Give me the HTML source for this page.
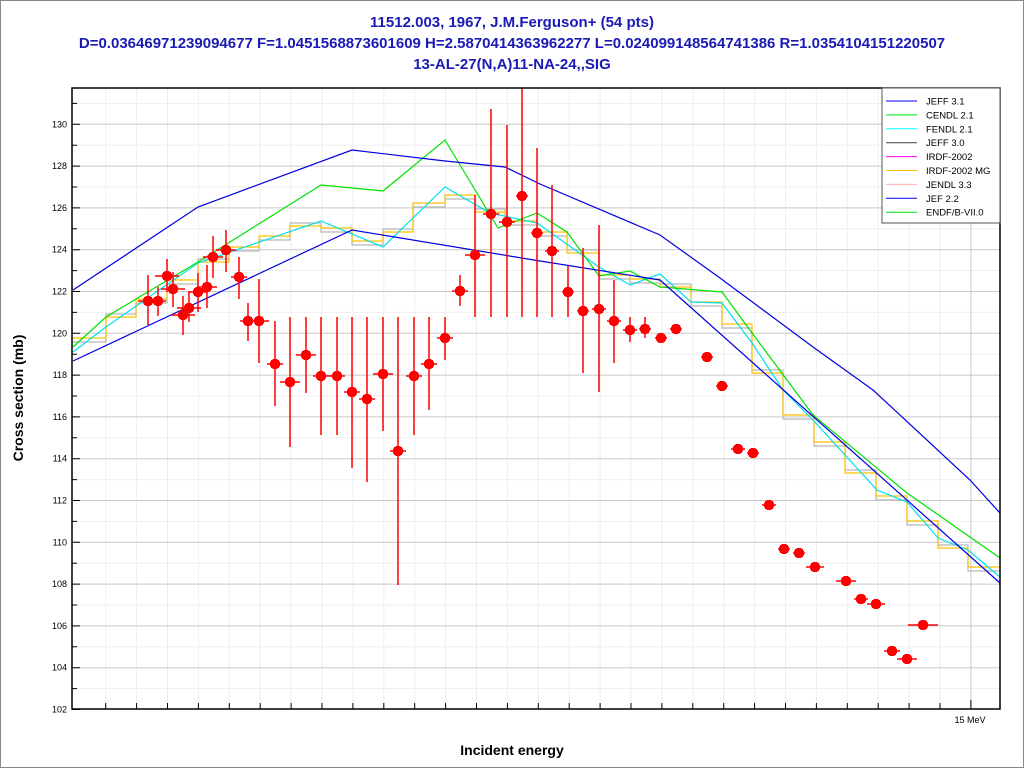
<!DOCTYPE html>
<html><head><meta charset="utf-8"><style>
body{margin:0;background:#fff}
svg{display:block;font-family:"Liberation Sans",sans-serif}
</style></head><body>
<svg width="1024" height="768" viewBox="0 0 1024 768" xmlns="http://www.w3.org/2000/svg" xmlns:xlink="http://www.w3.org/1999/xlink">
<defs>
<g id="m" fill="#f00"><rect x="-4" y="-4" width="8" height="8"/><rect x="-5" y="-2.5" width="10" height="5"/><rect x="-2.5" y="-5" width="5" height="10"/></g>
</defs>
<rect x="0.5" y="0.5" width="1023" height="767" fill="#fff" stroke="#888"/>
<g fill="#1a1ab4" font-size="15" font-weight="bold" text-anchor="middle">
<text x="512" y="27">11512.003, 1967, J.M.Ferguson+ (54 pts)</text>
<text x="512" y="48">D=0.03646971239094677 F=1.0451568873601609 H=2.5870414363962277 L=0.024099148564741386 R=1.0354104151220507</text>
<text x="512" y="69">13-AL-27(N,A)11-NA-24,,SIG</text>
</g>
<path fill="none" stroke="#eeeeee" d="M72 688.6H1000M72 646.8H1000M72 605H1000M72 563.2H1000M72 521.4H1000M72 479.6H1000M72 437.8H1000M72 396H1000M72 354.2H1000M72 312.4H1000M72 270.6H1000M72 228.8H1000M72 187H1000M72 145.2H1000M72 103.4H1000
M105.7 88V709M136.6 88V709M167.5 88V709M198.4 88V709M229.3 88V709M260.2 88V709M291.1 88V709M322 88V709M352.9 88V709M383.8 88V709M414.7 88V709M445.6 88V709M476.5 88V709M507.4 88V709M538.3 88V709M569.2 88V709M600.1 88V709M631 88V709M661.9 88V709M692.8 88V709M723.7 88V709M754.6 88V709M785.5 88V709M816.4 88V709M847.3 88V709M878.2 88V709M909.1 88V709M940 88V709"/>
<path fill="none" stroke="#c8c8c8" d="M72 667.7H1000M72 625.9H1000M72 584.1H1000M72 542.3H1000M72 500.5H1000M72 458.7H1000M72 416.9H1000M72 375.1H1000M72 333.3H1000M72 291.5H1000M72 249.7H1000M72 207.9H1000M72 166.1H1000M72 124.3H1000M970.9 88V709"/>
<g fill="none" stroke-width="1.2">
<path stroke="#b8b8b8" d="M73 342H106V314H136V303H167V284H198V259H229V251H259V240H290V223H321V232H352V245H383V229H413V207H445V199H475V209H505V225H537V236H567V250H599V279H630V283H660V284H691V306H722V328H752V370H783V419H814V446H845V470H876V500H907V525H938V545H968V571H1000"/>
<path stroke="#ffc000" d="M73 338H106V317H136V299H167V280H198V262H229V247H259V236H290V226H321V228H352V241H383V232H413V203H445V195H475V212H505V221H537V232H567V253H599V275H630V279H660V287H691V302H722V324H752V373H783V415H814V442H845V473H876V496H907V521H938V548H968V567H1000"/>
<polyline stroke="#00e0f0" points="73,352 106,327 198,263 321,221 383,247 445,187 490,213 537,223 540,225 599,267 630,285 660,274 691,302 722,303 752,343 783,390 813,420 877,490 907,502 938,538 968,550 1000,577"/>
<polyline stroke="#00e000" points="73,347 106,317 136,299 198,262 321,185 383,191 445,140 498,228 537,213 567,232 599,276 630,271 660,287 722,292 752,333 813,415 907,493 1000,558"/>
<polyline stroke="#0000e0" points="73,290 198,207 352,150 445,161 505,167 540,184 660,235 720,278 813,347 873,390 970,480 1000,513"/>
<polyline stroke="#0000e0" points="73,361 352,230 540,261 660,280 1000,583"/>
</g>
<path fill="none" stroke="#f00" stroke-width="1.5" d="M148 275V325M138 301H158M158 287V316M150 301H166M167 259V292M155 276H179M173 272V307M161 289H185M183 296V335M171 315H195M189 292V322M177 308H201M198 273V312M188 292H208M207 265V308M197 287H217M213 236V278M203 257H223M226 230V272M216 250H236M239 257V299M231 277H247M248 303V341M240 321H256M259 279V363M249 321H269M275 321V406M267 364H283M290 317V447M280 382H300M306 317V393M296 355H316M321 317V435M313 376H329M337 317V435M329 376H345M352 317V468M344 392H360M367 317V482M359 399H375M383 317V431M373 374H393M398 317V585M390 451H406M414 317V435M406 376H422M429 317V410M421 364H437M445 317V360M437 338H453M460 275V306M452 291H468M475 195V317M465 255H485M491 109V317M483 214H499M507 125V317M499 222H515M522 88V317M516 196H528M537 148V317M531 233H543M552 185V317M545 251H559M568 266V317M562 292H574M583 248V373M577 311H589M599 225V392M592 309H606M614 280V363M607 321H621M630 317V342M623 330H637M645 317V338M639 329H651M655 338H667M670 329H682M701 357H713M716 386H728M731 449H745M747 453H759M762 505H776M778 549H790M793 553H805M806 567H824M836 581H856M854 599H868M867 604H885M884 651H900M897 659H917M908 625H938"/>
<g>
<use xlink:href="#m" x="148" y="301"/><use xlink:href="#m" x="158" y="301"/><use xlink:href="#m" x="167" y="276"/><use xlink:href="#m" x="173" y="289"/><use xlink:href="#m" x="183" y="315"/><use xlink:href="#m" x="189" y="308"/><use xlink:href="#m" x="198" y="292"/><use xlink:href="#m" x="207" y="287"/><use xlink:href="#m" x="213" y="257"/><use xlink:href="#m" x="226" y="250"/><use xlink:href="#m" x="239" y="277"/><use xlink:href="#m" x="248" y="321"/><use xlink:href="#m" x="259" y="321"/><use xlink:href="#m" x="275" y="364"/><use xlink:href="#m" x="290" y="382"/><use xlink:href="#m" x="306" y="355"/><use xlink:href="#m" x="321" y="376"/><use xlink:href="#m" x="337" y="376"/><use xlink:href="#m" x="352" y="392"/><use xlink:href="#m" x="367" y="399"/><use xlink:href="#m" x="383" y="374"/><use xlink:href="#m" x="398" y="451"/><use xlink:href="#m" x="414" y="376"/><use xlink:href="#m" x="429" y="364"/><use xlink:href="#m" x="445" y="338"/><use xlink:href="#m" x="460" y="291"/><use xlink:href="#m" x="475" y="255"/><use xlink:href="#m" x="491" y="214"/><use xlink:href="#m" x="507" y="222"/><use xlink:href="#m" x="522" y="196"/><use xlink:href="#m" x="537" y="233"/><use xlink:href="#m" x="552" y="251"/><use xlink:href="#m" x="568" y="292"/><use xlink:href="#m" x="583" y="311"/><use xlink:href="#m" x="599" y="309"/><use xlink:href="#m" x="614" y="321"/><use xlink:href="#m" x="630" y="330"/><use xlink:href="#m" x="645" y="329"/><use xlink:href="#m" x="661" y="338"/><use xlink:href="#m" x="676" y="329"/><use xlink:href="#m" x="707" y="357"/><use xlink:href="#m" x="722" y="386"/><use xlink:href="#m" x="738" y="449"/><use xlink:href="#m" x="753" y="453"/><use xlink:href="#m" x="769" y="505"/><use xlink:href="#m" x="784" y="549"/><use xlink:href="#m" x="799" y="553"/><use xlink:href="#m" x="815" y="567"/><use xlink:href="#m" x="846" y="581"/><use xlink:href="#m" x="861" y="599"/><use xlink:href="#m" x="876" y="604"/><use xlink:href="#m" x="892" y="651"/><use xlink:href="#m" x="907" y="659"/><use xlink:href="#m" x="923" y="625"/>
</g>
<rect x="72" y="88" width="928" height="621" fill="none" stroke="#000" stroke-width="1.5"/>
<path fill="none" stroke="#000" d="M72 709.5h8M72 688.6h5M72 667.7h8M72 646.8h5M72 625.9h8M72 605h5M72 584.1h8M72 563.2h5M72 542.3h8M72 521.4h5M72 500.5h8M72 479.6h5M72 458.7h8M72 437.8h5M72 416.9h8M72 396h5M72 375.1h8M72 354.2h5M72 333.3h8M72 312.4h5M72 291.5h8M72 270.6h5M72 249.7h8M72 228.8h5M72 207.9h8M72 187h5M72 166.1h8M72 145.2h5M72 124.3h8M72 103.4h5
M105.7 703V709M136.6 703V709M167.5 703V709M198.4 703V709M229.3 703V709M260.2 703V709M291.1 703V709M322 703V709M352.9 703V709M383.8 703V709M414.7 703V709M445.6 703V709M476.5 703V709M507.4 703V709M538.3 703V709M569.2 703V709M600.1 703V709M631 703V709M661.9 703V709M692.8 703V709M723.7 703V709M754.6 703V709M785.5 703V709M816.4 703V709M847.3 703V709M878.2 703V709M909.1 703V709M940 703V709M970.9 700V709"/>
<g font-size="9" text-anchor="end">
<text x="67" y="712.5">102</text><text x="67" y="670.7">104</text><text x="67" y="628.9">106</text><text x="67" y="587.1">108</text><text x="67" y="545.3">110</text><text x="67" y="503.5">112</text><text x="67" y="461.7">114</text><text x="67" y="419.9">116</text><text x="67" y="378.1">118</text><text x="67" y="336.3">120</text><text x="67" y="294.5">122</text><text x="67" y="252.7">124</text><text x="67" y="210.9">126</text><text x="67" y="169.1">128</text><text x="67" y="127.3">130</text>
</g>
<text x="970" y="723" font-size="9" text-anchor="middle">15 MeV</text>
<text x="512" y="755" font-size="14" font-weight="bold" text-anchor="middle">Incident energy</text>
<text transform="translate(23,398) rotate(-90)" font-size="14" font-weight="bold" text-anchor="middle">Cross section (mb)</text>
<rect x="882" y="88" width="118" height="135" fill="#fff" stroke="#555"/>
<g stroke-width="1">
<line x1="886" x2="917" y1="101" y2="101" stroke="#0000ff"/>
<line x1="886" x2="917" y1="114.9" y2="114.9" stroke="#00e000"/>
<line x1="886" x2="917" y1="128.8" y2="128.8" stroke="#00ffff"/>
<line x1="886" x2="917" y1="142.7" y2="142.7" stroke="#404040"/>
<line x1="886" x2="917" y1="156.6" y2="156.6" stroke="#ff00ff"/>
<line x1="886" x2="917" y1="170.5" y2="170.5" stroke="#ffc000"/>
<line x1="886" x2="917" y1="184.4" y2="184.4" stroke="#ffb0b0"/>
<line x1="886" x2="917" y1="198.3" y2="198.3" stroke="#0000ff"/>
<line x1="886" x2="917" y1="212.2" y2="212.2" stroke="#00e000"/>
</g>
<g font-size="9.5">
<text x="926" y="104.5">JEFF 3.1</text>
<text x="926" y="118.4">CENDL 2.1</text>
<text x="926" y="132.3">FENDL 2.1</text>
<text x="926" y="146.2">JEFF 3.0</text>
<text x="926" y="160.1">IRDF-2002</text>
<text x="926" y="174">IRDF-2002 MG</text>
<text x="926" y="187.9">JENDL 3.3</text>
<text x="926" y="201.8">JEF 2.2</text>
<text x="926" y="215.7">ENDF/B-VII.0</text>
</g>
</svg>
</body></html>
